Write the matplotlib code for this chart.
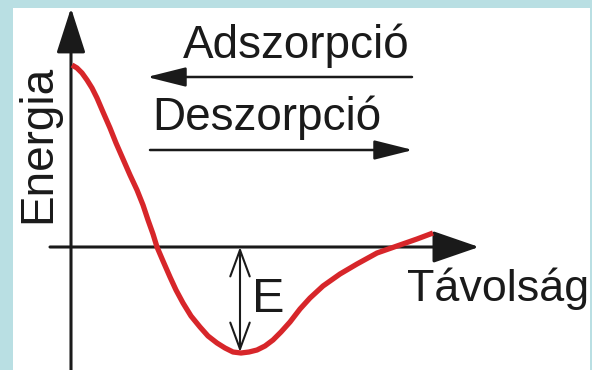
import matplotlib.pyplot as plt
from matplotlib import font_manager

# potencialgorbe (tavolsag, energia) - a kepről leolvasva
tavolsag = [1, 6, 11, 16, 21, 26, 32, 39, 45, 52, 59, 66, 72, 77, 82, 86,
            92, 99, 105, 112, 120, 129, 137, 146, 154, 162, 170, 178, 186,
            194, 202, 210, 219, 229, 239, 252, 269, 286, 306, 326, 346, 362]
energia = [182, 179, 174, 167, 159, 149, 135, 119, 104, 88, 72, 57, 42, 27, 13, 0,
           -14, -30, -43, -56, -69, -80, -89, -96, -101, -105, -106, -105, -103,
           -99, -93, -85, -75, -62, -51, -39, -27, -17, -6, 1, 8, 14]

# kotesi energia (minimum)
e_x = 169
e_min = -106

cor_fundo = '#b9dfe3'
cor_linha = '#1a1a1a'
cor_curva = '#d7262a'

nomes = {f.name for f in font_manager.fontManager.ttflist}
fonte = 'Liberation Sans' if 'Liberation Sans' in nomes else 'DejaVu Sans'
fonte_e = 'Liberation Sans Narrow' if 'Liberation Sans Narrow' in nomes else fonte

fig = plt.figure(figsize=(5.92, 3.70), dpi=100, facecolor=cor_fundo)
ax = fig.add_axes([13 / 592, 0, 577 / 592, 362 / 370])
ax.set_facecolor('white')
ax.set_xlim(-58, 519)
ax.set_ylim(-123, 239)
ax.set_xticks([])
ax.set_yticks([])
for s in ax.spines.values():
    s.set_visible(False)

def seta(x0, y0, x1, y1, lw, hl, hw, estilo='-|>'):
    ax.annotate('', xy=(x1, y1), xytext=(x0, y0),
                arrowprops=dict(arrowstyle=f'{estilo},head_length={hl},head_width={hw}',
                                mutation_scale=1, lw=lw, color=cor_linha,
                                shrinkA=0, shrinkB=0),
                annotation_clip=False)

# eixos
seta(0, -123, 0, 239, 2.2, 28, 9)
seta(-21, 0, 408, 0, 2.2, 29, 10)

# curva
ax.plot(tavolsag, energia, color=cor_curva, lw=3.8, solid_capstyle='butt',
        solid_joinstyle='round', zorder=3)

# energia de ligacao
seta(e_x, e_min + 1, e_x, 0, 1.5, 19, 7, estilo='<->')
ax.text(181, -65, 'E', fontsize=35, family=fonte_e, color=cor_linha, ha='left', va='baseline')

# textos
ax.text(112, 189, 'Adszorpció', fontsize=33, family=fonte, color=cor_linha, ha='left', va='baseline')
seta(341, 170, 76, 170, 1.8, 24, 6)
ax.text(81, 117, 'Deszorpció', fontsize=33, family=fonte, color=cor_linha, ha='left', va='baseline')
seta(79, 97, 342, 97, 1.8, 24, 6)

ax.text(336, -54, 'Távolság', fontsize=32.3, family=fonte, color=cor_linha, ha='left', va='baseline')
ax.text(-21, 24, 'Energia', fontsize=33, family=fonte, color=cor_linha, rotation=90,
        rotation_mode='anchor', ha='left', va='baseline')

fig.savefig('out.png', dpi=100, facecolor=cor_fundo)
